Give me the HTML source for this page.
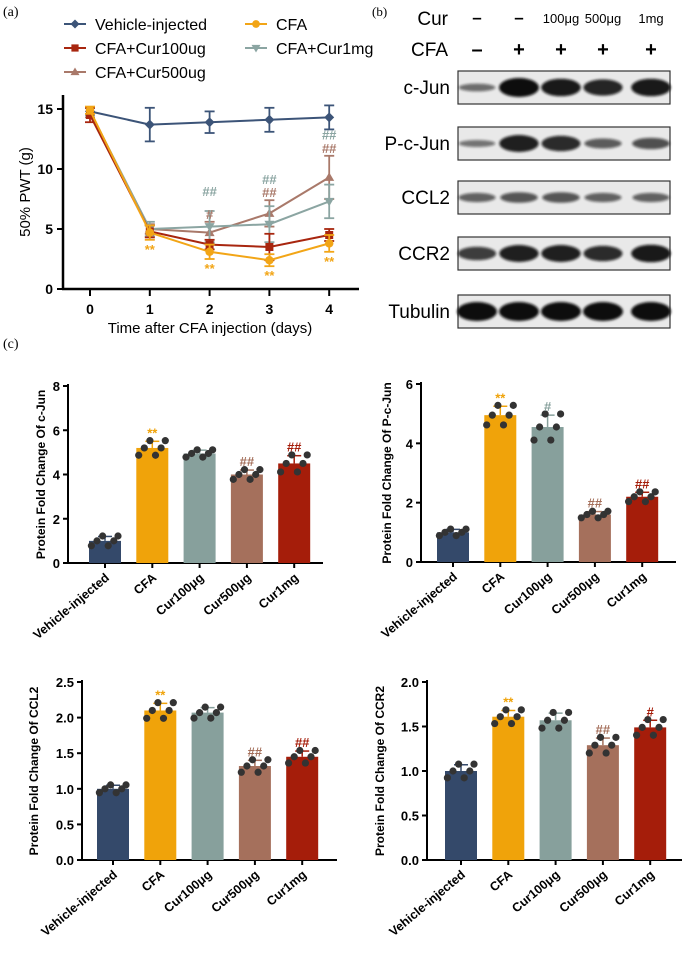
<!DOCTYPE html>
<html><head><meta charset="utf-8"><style>
body{margin:0;background:#fff;font-family:"Liberation Sans",sans-serif;}
svg{display:block}
</style></head><body>
<svg id="fig" width="688" height="961" viewBox="0 0 688 961" xmlns="http://www.w3.org/2000/svg" font-family="Liberation Sans, sans-serif">
<defs><filter id="blur" x="-20%" y="-50%" width="140%" height="200%"><feGaussianBlur stdDeviation="1.3"/></filter></defs>
<text x="3" y="16" font-family="Liberation Serif, serif" font-size="14">(a)</text>
<text x="372" y="16" font-family="Liberation Serif, serif" font-size="13">(b)</text>
<text x="3" y="348" font-family="Liberation Serif, serif" font-size="14">(c)</text>
<g id="line"></g>
<g id="blot"></g>
<g id="bars"></g>
</svg>
<script>
const NS="http://www.w3.org/2000/svg";
function el(p,t,a,txt){const e=document.createElementNS(NS,t);for(const k in a)e.setAttribute(k,a[k]);if(txt!==undefined)e.textContent=txt;p.appendChild(e);return e;}
// ---- line chart data
const days=[0,1,2,3,4];
const vehicle=[14.8,13.7,13.9,14.1,14.3], vehicleErr=[0.3,1.4,0.9,1.0,1.0];
const cfa=[14.9,4.7,3.1,2.4,3.8], cfaErr=[0.3,0.6,0.6,0.5,0.7];
const cur100=[14.5,4.8,3.7,3.5,4.5], cur100Err=[0.6,0.5,0.4,1.1,0.5];
const cur500=[14.7,5.0,4.7,6.3,9.3], cur500Err=[0.4,0.4,0.9,1.1,1.8];
const cur1mg=[14.8,5.0,5.2,5.4,7.3], cur1mgErr=[0.3,0.6,1.3,1.5,1.4];
const yTicksLine=[0,5,10,15];
const line=document.getElementById('line');
const lx=d=>90+d*59.8, ly=v=>289-v*12;
el(line,'line',{x1:63,y1:95,x2:63,y2:290,stroke:'#000','stroke-width':2.5});
el(line,'line',{x1:62,y1:289,x2:359,y2:289,stroke:'#000','stroke-width':2.5});
yTicksLine.forEach(t=>{el(line,'line',{x1:57,x2:63,y1:ly(t),y2:ly(t),stroke:'#000','stroke-width':2});
 const tx=el(line,'text',{x:53,y:ly(t)+5,'text-anchor':'end','font-size':14,'font-weight':'bold'},String(t));});
days.forEach(d=>{el(line,'line',{x1:lx(d),x2:lx(d),y1:289,y2:296,stroke:'#000','stroke-width':2});
 const tx=el(line,'text',{x:lx(d),y:314,'text-anchor':'middle','font-size':14,'font-weight':'bold'},String(d));});
let t1=el(line,'text',{x:210,y:333,'text-anchor':'middle','font-size':15},'Time after CFA injection (days)');

let t2=el(line,'text',{x:0,y:0,'text-anchor':'middle','font-size':15,transform:'translate(30,192) rotate(-90)'},'50% PWT (g)');

const series=[
 {n:'Vehicle-injected',v:vehicle,e:vehicleErr,c:'#3c5478',m:'diamond'},
 {n:'CFA+Cur500ug',v:cur500,e:cur500Err,c:'#a9796a',m:'tri'},
 {n:'CFA+Cur1mg',v:cur1mg,e:cur1mgErr,c:'#8ba5a2',m:'tridown'},
 {n:'CFA+Cur100ug',v:cur100,e:cur100Err,c:'#a8260f',m:'square'},
 {n:'CFA',v:cfa,e:cfaErr,c:'#f2a516',m:'circle'}];
function marker(g,m,x,y,c,s){
 if(m==='diamond')el(g,'path',{d:`M${x} ${y-s}L${x+s} ${y}L${x} ${y+s}L${x-s} ${y}Z`,fill:c});
 else if(m==='circle')el(g,'circle',{cx:x,cy:y,r:s*0.85,fill:c});
 else if(m==='square')el(g,'rect',{x:x-s*0.8,y:y-s*0.8,width:s*1.6,height:s*1.6,fill:c});
 else if(m==='tri')el(g,'path',{d:`M${x} ${y-s}L${x+s} ${y+s*0.7}L${x-s} ${y+s*0.7}Z`,fill:c});
 else el(g,'path',{d:`M${x} ${y+s}L${x+s} ${y-s*0.7}L${x-s} ${y-s*0.7}Z`,fill:c});
}
series.forEach(s=>{const g=el(line,'g',{});
 el(g,'polyline',{points:days.map((d,i)=>lx(d)+','+ly(s.v[i])).join(' '),fill:'none',stroke:s.c,'stroke-width':2});
 days.forEach((d,i)=>{const x=lx(d),y1=ly(s.v[i]+s.e[i]),y2=ly(s.v[i]-s.e[i]);
  el(g,'line',{x1:x,x2:x,y1:y1,y2:y2,stroke:s.c,'stroke-width':1.8});
  el(g,'line',{x1:x-5,x2:x+5,y1:y1,y2:y1,stroke:s.c,'stroke-width':1.8});
  el(g,'line',{x1:x-5,x2:x+5,y1:y2,y2:y2,stroke:s.c,'stroke-width':1.8});
  marker(g,s.m,x,ly(s.v[i]),s.c,5);});});
const ann=[[1,cfa[1]-cfaErr[1],'**','#f2a516',1],[2,cfa[2]-cfaErr[2],'**','#f2a516',1],[3,cfa[3]-cfaErr[3],'**','#f2a516',1],[4,cfa[4]-cfaErr[4],'**','#f2a516',1],
 [2,cur500[2]+cur500Err[2],'#','#a9796a',0],[2,cur1mg[2]+cur1mgErr[2]+1.0,'##','#8ba5a2',0],
 [3,cur500[3]+cur500Err[3],'##','#a9796a',0],[3,cur500[3]+cur500Err[3]+1.1,'##','#8ba5a2',0],
 [4,cur500[4]+cur500Err[4],'##','#a9796a',0],[4,cur500[4]+cur500Err[4]+1.1,'##','#8ba5a2',0]];
ann.forEach(a=>{const y=a[4]?ly(a[1])+14:ly(a[1])-3;const t=el(line,'text',{x:lx(a[0]),y:y,'text-anchor':'middle','font-size':13,fill:a[3],'font-weight':'bold'},a[2]);});
const leg=[['Vehicle-injected','#3c5478','diamond',64,24],['CFA','#f2a516','circle',245,24],['CFA+Cur100ug','#a8260f','square',64,48],['CFA+Cur1mg','#8ba5a2','tridown',245,48],['CFA+Cur500ug','#a9796a','tri',64,72]];
leg.forEach(l=>{const g=el(line,'g',{});
 el(g,'line',{x1:l[3],x2:l[3]+22,y1:l[4],y2:l[4],stroke:l[1],'stroke-width':2});marker(g,l[2],l[3]+11,l[4],l[1],4.5);
 el(g,'text',{x:l[3]+31,y:l[4]+6,'font-size':16},l[0]);});
// ---- blot
const blot=document.getElementById('blot');
const lanes=[477,519,561,603,651];
const curLab=['–','–','100μg','500μg','1mg'], cfaLab=['–','+','+','+','+'];
el(blot,'text',{x:448,y:25,'text-anchor':'end','font-size':19},'Cur');
el(blot,'text',{x:448,y:56,'text-anchor':'end','font-size':19},'CFA');
lanes.forEach((x,i)=>{el(blot,'text',{x:x,y:23,'text-anchor':'middle','font-size':curLab[i].length>1?13:17,'font-weight':curLab[i].length>1?'normal':'bold'},curLab[i]);
 el(blot,'text',{x:x,y:56,'text-anchor':'middle','font-size':20,'font-weight':'bold'},cfaLab[i]);});
const proteins=['c-Jun','P-c-Jun','CCL2','CCR2','Tubulin'];
const bandTop=[71,127,181,237,295];
const bandInt=[[0.2,1,0.9,0.8,0.9],[0.15,0.85,0.75,0.35,0.45],[0.3,0.4,0.4,0.3,0.3],[0.6,0.85,0.85,0.75,0.9],[1,1,1,1,1]];
proteins.forEach((p,r)=>{const g=el(blot,'g',{});
 const y=bandTop[r];el(g,'rect',{x:458,y:y,width:212,height:33,fill:'#e9e9e9',stroke:'#333','stroke-width':1.2});
 el(g,'text',{x:450,y:y+23,'text-anchor':'end','font-size':19},p);
 lanes.forEach((x,i)=>{const k=bandInt[r][i];el(g,'ellipse',{cx:x,cy:y+16.5,rx:18+2*k,ry:2.5+7*k,fill:'#111',opacity:0.45+0.55*k,filter:'url(#blur)'});});});
// ---- bar charts
const cats=['Vehicle-injected','CFA','Cur100μg','Cur500μg','Cur1mg'];
const colors=['#34496a','#f0a30a','#87a09c','#a5705c','#a51d0a'];
const cjunMean=[1.0,5.2,4.95,4.0,4.5], cjunErr=[0.2,0.3,0.15,0.2,0.35];
const pcjunMean=[1.0,4.95,4.55,1.6,2.2], pcjunErr=[0.1,0.3,0.4,0.1,0.15];
const ccl2Mean=[1.0,2.1,2.07,1.32,1.45], ccl2Err=[0.05,0.1,0.07,0.08,0.08];
const ccr2Mean=[1.0,1.61,1.57,1.29,1.49], ccr2Err=[0.07,0.07,0.08,0.08,0.08];
const jitter=[-0.9,-0.5,-0.1,0.3,0.7,1.0];
const charts=[
 {t:'c-Jun',m:cjunMean,e:cjunErr,ax:68,y0:563,top:386,max:8,ticks:[0,2,4,6,8],tf:0,sig:['','**','','##','##'],off:37,tx:45},
 {t:'P-c-Jun',m:pcjunMean,e:pcjunErr,ax:421,y0:562,top:384,max:6,ticks:[0,2,4,6],tf:0,sig:['','**','#','##','##'],off:32,tx:391},
 {t:'CCL2',m:ccl2Mean,e:ccl2Err,ax:82,y0:860,top:682,max:2.5,ticks:[0,0.5,1.0,1.5,2.0,2.5],tf:1,sig:['','**','','##','##'],off:31,tx:38},
 {t:'CCR2',m:ccr2Mean,e:ccr2Err,ax:427,y0:860,top:682,max:2.0,ticks:[0,0.5,1.0,1.5,2.0],tf:1,sig:['','**','','##','#'],off:34,tx:384}];
const bars=document.getElementById('bars');
charts.forEach(c=>{const g=el(bars,'g',{});
 const sy=v=>c.y0-v*(c.y0-c.top)/c.max, bx=i=>c.ax+c.off+i*47.3;
 el(g,'line',{x1:c.ax,x2:c.ax,y1:c.top-2,y2:c.y0+1,stroke:'#000','stroke-width':2});
 el(g,'line',{x1:c.ax-1,x2:c.ax+255,y1:c.y0,y2:c.y0,stroke:'#000','stroke-width':2});
 c.ticks.forEach(t=>{el(g,'line',{x1:c.ax-5,x2:c.ax,y1:sy(t),y2:sy(t),stroke:'#000','stroke-width':2});
  const tx=el(g,'text',{x:c.ax-8,y:sy(t)+5,'text-anchor':'end','font-size':13,'font-weight':'bold'},c.tf?t.toFixed(1):String(t));});
 const yt=el(g,'text',{x:0,y:0,'text-anchor':'middle','font-size':12,'font-weight':'bold',transform:`translate(${c.tx},${(c.y0+c.top)/2}) rotate(-90)`},'Protein Fold Change Of '+c.t);
 
 c.m.forEach((v,i)=>{const x=bx(i);
  const b=el(g,'rect',{x:x-16,y:sy(v),width:32,height:c.y0-sy(v),fill:colors[i]});
  const ye=sy(v+c.e[i]);el(g,'line',{x1:x,x2:x,y1:ye,y2:sy(v),stroke:colors[i],'stroke-width':1.5});el(g,'line',{x1:x-7,x2:x+7,y1:ye,y2:ye,stroke:colors[i],'stroke-width':1.5});
  jitter.forEach((j,k)=>{const dv=v+c.e[i]*((k%3)-1)*1.1;el(g,'circle',{cx:x+j*14-1,cy:sy(dv),r:3.6,fill:'#333'});});
  el(g,'line',{x1:x,x2:x,y1:c.y0,y2:c.y0+5,stroke:'#000','stroke-width':2});
  const lt=el(g,'text',{x:0,y:0,'text-anchor':'end','font-size':12.5,'font-weight':'bold',transform:`translate(${x+5},${c.y0+16}) rotate(-40)`},cats[i]);
  if(c.sig[i]){const st=el(g,'text',{x:x,y:ye-4,'text-anchor':'middle','font-size':13,'font-weight':'bold',fill:colors[i]},c.sig[i]);}});});
</script>
</body></html>
